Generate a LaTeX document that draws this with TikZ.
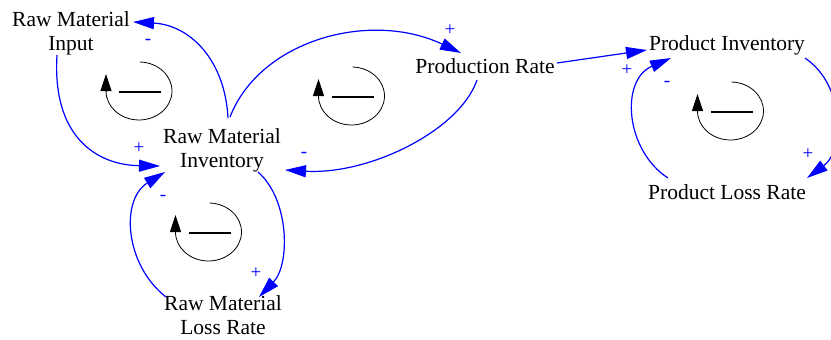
\documentclass[tikz,border=0pt]{standalone}
\usepackage{fontspec}
\setmainfont{Liberation Serif}
\usetikzlibrary{arrows.meta,calc}
\begin{document}
\begin{tikzpicture}[x=1pt,y=-1pt,
  var/.style={inner sep=0pt, align=center, font=\fontsize{21.5}{24}\selectfont},
  link/.style={draw=blue, line width=1.2pt, -{Triangle[length=21pt,width=12pt]}},
  sign/.style={text=blue, inner sep=0pt, font=\fontsize{19}{20}\selectfont},
  loopc/.style={draw=black, line width=0.8pt},
  looparr/.style={draw=black, line width=0.8pt, -{Triangle[length=17pt,width=11pt]}},
  loopbar/.style={draw=black, line width=2.8pt}]
\useasboundingbox (0,0) rectangle (831,340);

% variables
\node[var] (in)  at (71,33)   {Raw Material\\Input};
\node[var] (inv) at (222,150) {Raw Material\\Inventory};
\node[var] (pr)  at (485,66)  {Production Rate};
\node[var] (pi)  at (727,45)  {Product Inventory};
\node[var] (pl)  at (727,192) {Product Loss Rate};
\node[var] (ls)  at (223,315) {Raw Material\\Loss Rate};

% links
\draw[link] ($(inv)+(6,-32)$) .. controls (225,60) and (190,25) .. ($(in)+(62,-11)$);
\draw[link] ($(in)+(-14,22)$) .. controls (52,135) and (95,165) .. ($(inv)+(-62,16)$);
\draw[link] ($(inv)+(8,-33)$) .. controls (260,40) and (370,10) .. ($(pr)+(-24,-13)$);
\draw[link] ($(pr)+(-8,14)$) .. controls (460,130) and (370,175) .. ($(inv)+(63,20)$);
\draw[link] ($(pr)+(72,-3)$) -- ($(pi)+(-80,5)$);
\draw[link] ($(pi)+(78,13)$) .. controls (845,85) and (845,150) .. ($(pl)+(80,-14)$);
\draw[link] ($(pl)+(-59,-14)$) .. controls (625,150) and (620,80) .. ($(pi)+(-56,13)$);
\draw[link] ($(inv)+(36,22)$) .. controls (290,200) and (290,265) .. ($(ls)+(36,-18)$);
\draw[link] ($(ls)+(-57,-18)$) .. controls (125,265) and (120,200) .. ($(inv)+(-57,22)$);

% polarity signs
\node[sign] (s1) at (148,42)  {-};
\node[sign] (s2) at (139,148) {+};
\node[sign] (s3) at (450,30)  {+};
\node[sign] (s4) at (304,155) {-};
\node[sign] (s5) at (627,70)  {+};
\node[sign] (s6) at (808,154) {+};
\node[sign] (s7) at (667,84)  {-};
\node[sign] (s8) at (256,273) {+};
\node[sign] (s9) at (163,198) {-};

% loop markers
\foreach \n/\cx/\cy in {L1/139/91, L2/351.5/96, L3/730.5/111, L4/208.5/232}{
  \coordinate (\n) at (\cx,\cy);
  \draw[loopc] ($(\n)+(1.15,-29)$) arc[start angle=-88, end angle=180, x radius=33, y radius=29];
  \draw[looparr] ($(\n)+(-33,0)$) -- ++(0,-17);
  \draw[loopbar] ($(\n)+(-20,1)$) -- ($(\n)+(22,1)$);
}
\end{tikzpicture}
\end{document}
